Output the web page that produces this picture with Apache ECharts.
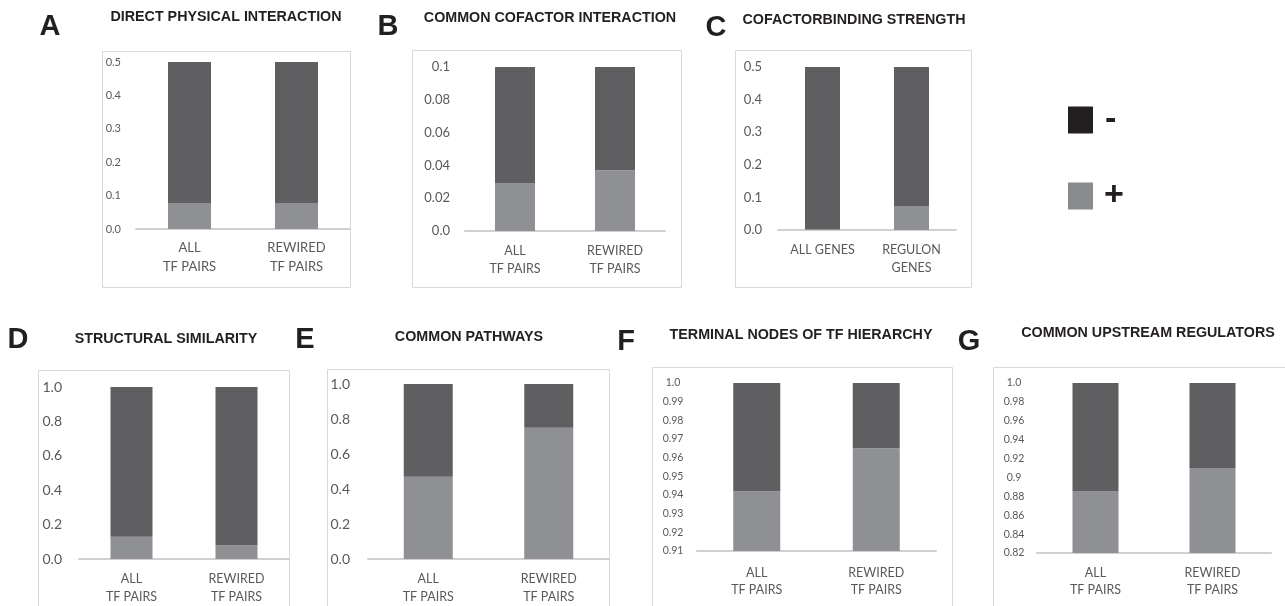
<!DOCTYPE html>
<html><head><meta charset="utf-8">
<script src="https://cdn.jsdelivr.net/npm/echarts@6/dist/echarts.min.js"></script>
<style>html,body{margin:0;padding:0;background:#fff}#c{width:1285px;height:606px}</style>
</head><body><div id="c"></div>
<script>
// ---- data ----
const panelTitles = ['DIRECT PHYSICAL INTERACTION','COMMON COFACTOR INTERACTION','COFACTORBINDING STRENGTH','STRUCTURAL SIMILARITY','COMMON PATHWAYS','TERMINAL NODES OF TF HIERARCHY','COMMON UPSTREAM REGULATORS'];
const panelLetters = ['A','B','C','D','E','F','G'];
const catsPairs = ['ALL\nTF PAIRS','REWIRED\nTF PAIRS'];
const catsGenes = ['ALL GENES','REGULON\nGENES'];
const plusA = [0.078, 0.078];  const minusA = [0.422, 0.422];
const plusB = [0.029, 0.037];  const minusB = [0.071, 0.063];
const plusC = [0.002, 0.074];  const minusC = [0.498, 0.426];
const plusD = [0.13, 0.08];    const minusD = [0.87, 0.92];
const plusE = [0.47, 0.75];    const minusE = [0.53, 0.25];
const plusF = [0.942, 0.965];  const minusF = [0.058, 0.035];
const plusG = [0.885, 0.91];   const minusG = [0.115, 0.09];
const ticksA = ['0.0','0.1','0.2','0.3','0.4','0.5'];
const ticksB = ['0.0','0.02','0.04','0.06','0.08','0.1'];
const ticksC = ['0.0','0.1','0.2','0.3','0.4','0.5'];
const ticksD = ['0.0','0.2','0.4','0.6','0.8','1.0'];
const ticksE = ['0.0','0.2','0.4','0.6','0.8','1.0'];
const ticksF = ['0.91','0.92','0.93','0.94','0.95','0.96','0.97','0.98','0.99','1.0'];
const ticksG = ['0.82','0.84','0.86','0.88','0.9','0.92','0.94','0.96','0.98','1.0'];
const legendNames = ['-','+'];

// ---- layout / style ----
const DARK = '#5f5f61', LIGHT = '#8f9093';
const panels = [
  {cats:catsPairs, plus:plusA, minus:minusA, ticks:ticksA, min:0, max:0.5, step:0.1,
   grid:{left:136,top:62,width:214,height:167}, bw:43, yfs:11, ym:15, yal:'right', xfs:13, xm:9, xlh:19,
   box:[102,51,248,236], title:[226,17], letter:[50,27]},
  {cats:catsPairs, plus:plusB, minus:minusB, ticks:ticksB, min:0, max:0.1, step:0.02,
   grid:{left:465,top:67,width:200,height:164}, bw:40, yfs:13, ym:15, yal:'right', xfs:12.5, xm:11, xlh:18,
   box:[412,50,269,237], title:[550,18], letter:[388,27]},
  {cats:catsGenes, plus:plusC, minus:minusC, ticks:ticksC, min:0, max:0.5, step:0.1,
   grid:{left:778,top:67,width:178,height:163}, bw:35, yfs:13, ym:16, yal:'right', xfs:12.5, xm:11, xlh:18,
   box:[735,50,236,237], title:[854,20], letter:[716,28]},
  {cats:catsPairs, plus:plusD, minus:minusD, ticks:ticksD, min:0, max:1, step:0.2,
   grid:{left:79,top:387,width:210,height:172}, bw:42, yfs:14, ym:17, yal:'right', xfs:12.5, xm:11, xlh:18,
   box:[38,370,251,270], title:[166,339], letter:[18,340]},
  {cats:catsPairs, plus:plusE, minus:minusE, ticks:ticksE, min:0, max:1, step:0.2,
   grid:{left:368,top:384,width:241,height:175}, bw:49, yfs:14, ym:18, yal:'right', xfs:12.5, xm:11, xlh:18,
   box:[327,369,282,270], title:[469,337], letter:[305,340]},
  {cats:catsPairs, plus:plusF, minus:minusF, ticks:ticksF, min:0.91, max:1.0, step:0.01,
   grid:{left:697,top:383,width:239,height:168}, bw:47, yfs:10.5, ym:24, yal:'center', xfs:12.5, xm:13, xlh:17,
   box:[652,367,300,270], title:[801,335], letter:[626,342]},
  {cats:catsPairs, plus:plusG, minus:minusG, ticks:ticksG, min:0.82, max:1.0, step:0.02,
   grid:{left:1037,top:383,width:234,height:170}, bw:46, yfs:10.5, ym:23, yal:'center', xfs:12.5, xm:11, xlh:17,
   box:[993,367,330,270], title:[1148,333], letter:[969,342]}
];

const grid=[], xAxis=[], yAxis=[], series=[], title=[], graphic=[];
panels.forEach((p,i)=>{
  grid.push(Object.assign({containLabel:false}, p.grid));
  xAxis.push({type:'category', gridIndex:i, data:p.cats,
    axisLine:{show:true, lineStyle:{color:'#d0d0d0', width:2}}, axisTick:{show:false},
    axisLabel:{fontFamily:'Lato', fontSize:p.xfs, color:'#595959', margin:p.xm, lineHeight:p.xlh, interval:0}});
  yAxis.push({type:'value', gridIndex:i, min:p.min, max:p.max, interval:p.step,
    axisLine:{show:false}, axisTick:{show:false}, splitLine:{show:false},
    axisLabel:{fontFamily:'Lato', fontSize:p.yfs, color:'#595959', margin:p.ym, align:p.yal,
      formatter:(v,idx)=>p.ticks[idx]}});
  series.push({type:'bar', name:'+', xAxisIndex:i, yAxisIndex:i, stack:'s'+i, data:p.plus,
    barWidth:p.bw, itemStyle:{color:LIGHT}});
  series.push({type:'bar', name:'-', xAxisIndex:i, yAxisIndex:i, stack:'s'+i, data:p.minus,
    barWidth:p.bw, itemStyle:{color:DARK}});
  title.push({text:panelTitles[i], left:p.title[0], top:p.title[1]-8, padding:0, textAlign:'center',
    textStyle:{fontFamily:'Liberation Sans, Arial', fontWeight:'bold', fontSize:14.3, color:'#231f20', lineHeight:16}});
  graphic.push({type:'rect', silent:true, z:-1, shape:{x:p.box[0]+0.5,y:p.box[1]+0.5,width:p.box[2],height:p.box[3]},
    style:{fill:'none', stroke:'#d9d9d9', lineWidth:1}});
  graphic.push({type:'text', silent:true, style:{text:panelLetters[i], x:p.letter[0], y:p.letter[1],
    textAlign:'center', textVerticalAlign:'middle', font:'bold 29px "Liberation Sans", Arial', fill:'#231f20'}});
});

const chart = echarts.init(document.getElementById('c'), null, {renderer:'canvas'});
chart.setOption({
  animation:false,
  backgroundColor:'#ffffff',
  title, grid, xAxis, yAxis, series, graphic,
  legend:[
    {data:[{name:legendNames[0], itemStyle:{color:'#231f20'}}], left:1068, top:103, padding:0, icon:'rect',
     itemWidth:25, itemHeight:27, itemGap:0, selectedMode:false,
     textStyle:{fontFamily:'Liberation Sans, Arial', fontWeight:'bold', fontSize:34, color:'#231f20', padding:[0,0,0,7]}},
    {data:[{name:legendNames[1], itemStyle:{color:'#8a8b8d'}}], left:1068, top:179, padding:0, icon:'rect',
     itemWidth:25, itemHeight:27, itemGap:0, selectedMode:false,
     textStyle:{fontFamily:'Liberation Sans, Arial', fontWeight:'bold', fontSize:34, color:'#231f20', padding:[0,0,0,6]}}
  ]
});
</script></body></html>
